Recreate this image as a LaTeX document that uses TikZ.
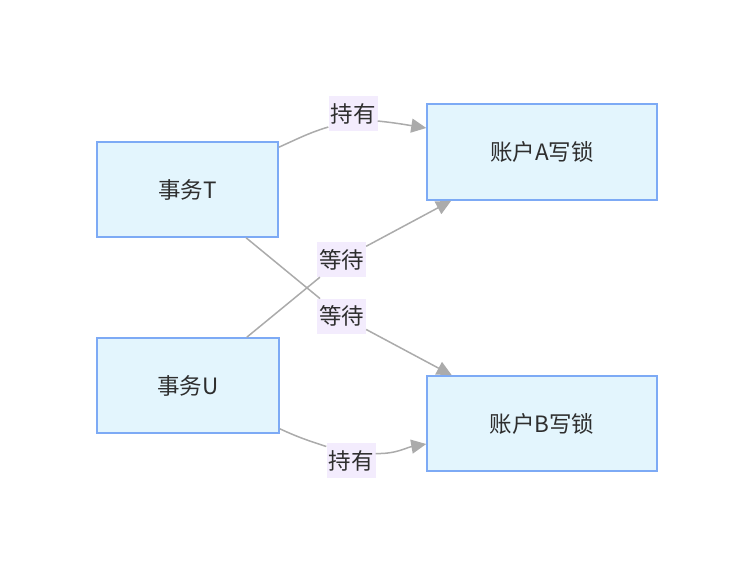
\documentclass[tikz,border=0pt]{standalone}
\usepackage{fontspec}
\newfontfamily\cjk{Noto Sans CJK SC}
\usetikzlibrary{arrows.meta}
\definecolor{boxfill}{HTML}{E3F5FD}
\definecolor{boxline}{HTML}{7DAAF5}
\definecolor{edgegray}{HTML}{ABABAB}
\definecolor{lblfill}{HTML}{F3ECFD}
\definecolor{txt}{HTML}{2E2E2E}
\tikzset{
  lockbox/.style={draw=boxline, fill=boxfill, line width=1.5pt, text=txt,
    font=\cjk\fontsize{22.5}{27}\selectfont, inner sep=0pt},
  edgelbl/.style={fill=lblfill, text=txt, font=\cjk\fontsize{22.5}{27}\selectfont,
    inner xsep=2pt, inner ysep=0pt, minimum height=35pt},
  link/.style={draw=edgegray, line width=1.5pt},
  arrow/.style={link, -{Triangle[length=15pt,width=14pt]}}
}
\begin{document}
\begin{tikzpicture}[x=1pt,y=1pt]
\useasboundingbox (0,0) rectangle (753,574);
% boxes
\node[lockbox, minimum width=181pt, minimum height=95pt] (T) at (187.5,384.5) {事务T};
\node[lockbox, minimum width=182pt, minimum height=95pt] (U) at (188,188.5) {事务U};
\node[lockbox, minimum width=230pt, minimum height=96pt] (A) at (542,422) {账户A写锁};
\node[lockbox, minimum width=230pt, minimum height=95pt] (B) at (542,150.5) {账户B写锁};
% labels
\node[edgelbl] (holdA) at (353,460) {持有};
\node[edgelbl] (waitA) at (341.5,314.5) {等待};
\node[edgelbl] (waitB) at (341.5,257.7) {等待};
\node[edgelbl] (holdB) at (351,113.5) {持有};
% T holds A
\draw[link] ([yshift=-6pt]T.north east) to[out=24,in=197] ([yshift=-13pt]holdA.west);
\draw[arrow] ([yshift=-7pt]holdA.east) to[out=-6,in=171] ([yshift=24pt]A.west);
% U waits for A
\draw[link] (U) -- (waitA);
\draw[arrow] (waitA) -- (A);
% T waits for B
\draw[link] (T) -- (waitB);
\draw[arrow] (waitB) -- (B);
% U holds B
\draw[link] ([yshift=5pt]U.south east) to[out=-25,in=162] ([yshift=14pt]holdB.west);
\draw[arrow] ([yshift=7pt]holdB.east) to[out=-2,in=190] ([yshift=-20.5pt]B.west);
\end{tikzpicture}
\end{document}
